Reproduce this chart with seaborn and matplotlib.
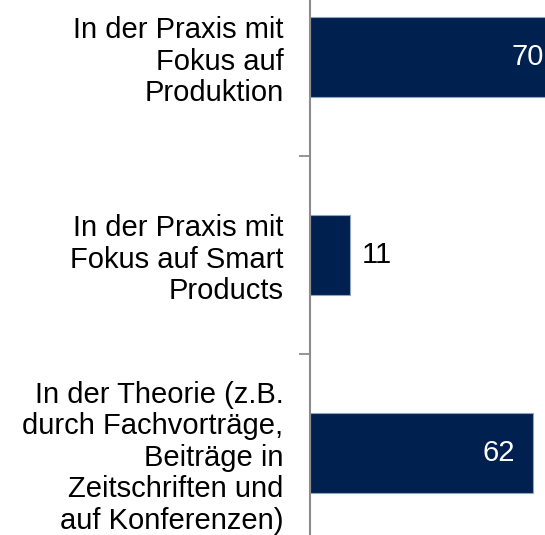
import numpy as np
import pandas as pd
import matplotlib.pyplot as plt
from matplotlib.ticker import FixedLocator

import seaborn as sns

categories = ['In der Praxis mit\nFokus auf\nProduktion',
              'In der Praxis mit\nFokus auf Smart\nProducts',
              'In der Theorie (z.B.\ndurch Fachvorträge,\nBeiträge in\nZeitschriften und\nauf Konferenzen)']
values = [70, 11, 62]

sns.set_style('white')
plt.rcParams['font.family'] = ['Liberation Sans', 'DejaVu Sans']

df = pd.DataFrame({'cat': categories, 'val': values})

fig = plt.figure(figsize=(5.45, 5.35), dpi=100)
ax = fig.add_axes([310 / 545, 0, 1 - 310 / 545, 1])

sns.barplot(data=df, x='val', y='cat', orient='h', color='#00214f',
            width=0.404, edgecolor='#8ea4c0', linewidth=0.8,
            saturation=1, ax=ax)

ax.set_xlim(0, 65.3)
ax.set_ylim(2.414, -0.288)
ax.set_xlabel('')
ax.set_ylabel('')
ax.set_xticks([])

for s in ['top', 'right', 'bottom']:
    ax.spines[s].set_visible(False)
ax.spines['left'].set_color('#8c8c8c')
ax.spines['left'].set_linewidth(1.5)

ax.tick_params(axis='y', which='major', length=0, pad=19, labelsize=21,
               labelcolor='black')
ax.yaxis.set_minor_locator(FixedLocator([0.5, 1.5]))
ax.tick_params(axis='y', which='minor', left=True, length=8, width=1.3,
               color='#8c8c8c')
for lbl in ax.get_yticklabels():
    lbl.set_horizontalalignment('right')
    lbl.set_multialignment('right')
    lbl.set_linespacing(1.16)

# value labels
for i, v in enumerate(values):
    if v > 30:
        ax.text(v - 5.0, i, str(v), color='white', fontsize=21,
                ha='right', va='center')
    else:
        ax.text(v + 3.5, i, str(v), color='black', fontsize=21,
                ha='left', va='center')

fig.savefig('out.png', dpi=100)
